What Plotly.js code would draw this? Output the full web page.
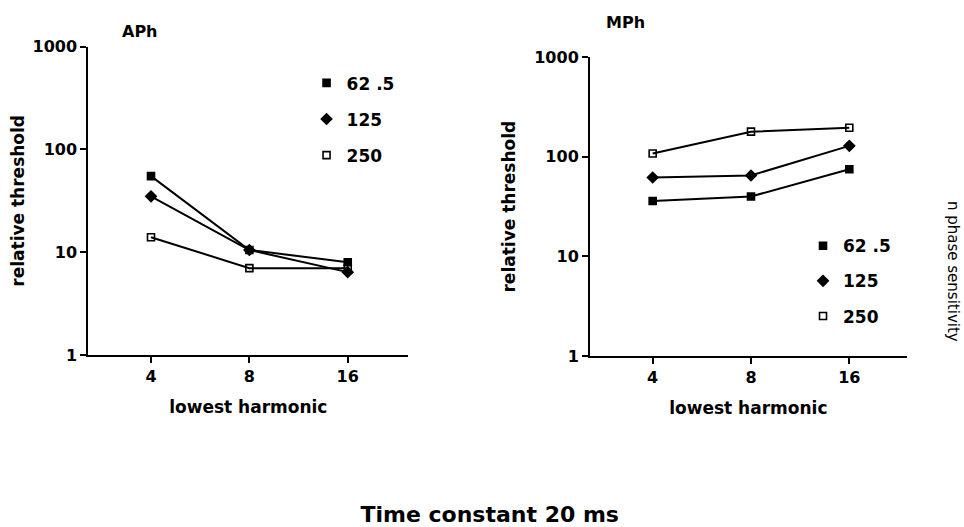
<!DOCTYPE html>
<html>
<head>
<meta charset="utf-8">
<script src="https://cdn.plot.ly/plotly-3.0.1.min.js"></script>
<style>html,body{margin:0;padding:0;background:#fff;}#chart{width:964px;height:527px;}</style>
</head>
<body>
<div id="chart"></div>
<script>
// ---- data ----
const harmonics = [4, 8, 16];
const seriesNames = ["62 .5", "125", "250"];
// APh panel
const aph_62_5 = [55, 10.5, 8.0];
const aph_125 = [35, 10.5, 6.4];
const aph_250 = [14, 7.0, 7.0];
// MPh panel
const mph_62_5 = [36, 40, 75];
const mph_125 = [62, 65, 129];
const mph_250 = [108, 179, 196];
const yTickVals = [1, 10, 100, 1000];
const yTickText = ["1", "10", "100", "1000"];
const xTickVals = [4, 8, 16];
const xTickText = ["4", "8", "16"];

const FONT = "DejaVu Sans, Liberation Sans, Arial, sans-serif";
const symbols = ["square", "diamond", "square-open"];
const sizes = [7, 8, 7];

function mk(y, i, xa, ya) {
  return {
    x: harmonics, y: y, xaxis: xa, yaxis: ya,
    mode: "lines+markers", showlegend: false,
    line: {color: "#000", width: 2},
    marker: {symbol: symbols[i], size: sizes[i], color: "#000", line: {color: "#000", width: 1.6}},
    hoverinfo: "x+y"
  };
}
function leg(i, lg, xa, ya) {
  return {
    x: [null], y: [null], xaxis: xa, yaxis: ya,
    mode: "markers", name: seriesNames[i], legend: lg, legendgroup: lg + i,
    marker: {symbol: symbols[i], size: sizes[i], color: "#000", line: {color: "#000", width: 1.6}}
  };
}

const traces = [
  mk(aph_62_5, 0, "x", "y"), mk(aph_125, 1, "x", "y"), mk(aph_250, 2, "x", "y"),
  mk(mph_62_5, 0, "x2", "y2"), mk(mph_125, 1, "x2", "y2"), mk(mph_250, 2, "x2", "y2"),
  leg(0, "legend", "x", "y"), leg(1, "legend", "x", "y"), leg(2, "legend", "x", "y"),
  leg(0, "legend2", "x2", "y2"), leg(1, "legend2", "x2", "y2"), leg(2, "legend2", "x2", "y2")
];

function xax(dom, rng, anchor) {
  return {
    type: "log", domain: dom, range: rng, anchor: anchor,
    tickvals: xTickVals, ticktext: xTickText,
    showgrid: false, zeroline: false, showline: true, linecolor: "#000", linewidth: 2,
    ticks: "outside", ticklen: 6, tickwidth: 2, tickcolor: "#000",
    tickfont: {family: FONT, size: 16, color: "#000", weight: "bold"},
    title: {text: "lowest harmonic", standoff: 16, font: {family: FONT, size: 17, color: "#000", weight: "bold"}},
    automargin: false, fixedrange: true
  };
}
function yax(dom, anchor, standoff) {
  return {
    type: "log", domain: dom, range: [0, 3], anchor: anchor,
    tickvals: yTickVals, ticktext: yTickText,
    showgrid: false, zeroline: false, showline: true, linecolor: "#000", linewidth: 2,
    ticks: "outside", ticklen: 6, tickwidth: 2, tickcolor: "#000",
    tickfont: {family: FONT, size: 16, color: "#000", weight: "bold"},
    title: {text: "relative threshold", standoff: standoff, font: {family: FONT, size: 17, color: "#000", weight: "bold"}},
    automargin: false, fixedrange: true
  };
}

const legStyle = (x, y, gap) => ({
  x: x, y: y, xanchor: "left", yanchor: "top", xref: "paper", yref: "paper",
  bgcolor: "rgba(0,0,0,0)", borderwidth: 0, tracegroupgap: gap, itemwidth: 30,
  font: {family: FONT, size: 17, color: "#000", weight: "bold"}
});

const layout = {
  width: 964, height: 527,
  margin: {l: 0, r: 0, t: 0, b: 0},
  paper_bgcolor: "#fff", plot_bgcolor: "#fff",
  showlegend: true,
  title: {
    text: "Time constant 20 ms", x: 0.508, xanchor: "center", y: 1 - 514/527, yanchor: "middle",
    font: {family: FONT, size: 22, color: "#000", weight: "bold"}
  },
  xaxis: xax([0.0916, 0.4236], [0.4102, 1.3896], "y"),
  yaxis: yax([0.3264, 0.9114], "x", 4),
  xaxis2: xax([0.612, 0.9406], [0.4101, 1.3799], "y2"),
  yaxis2: yax([0.3245, 0.8913], "x2", 14),
  legend: legStyle(0.318, 0.876, 11),
  legend2: legStyle(0.833, 0.567, 10),
  annotations: [
    {text: "APh", xref: "paper", yref: "paper", x: 0.1245, y: 1 - 32/527, xanchor: "left", yanchor: "middle",
     showarrow: false, font: {family: FONT, size: 16, color: "#000", weight: "bold"}},
    {text: "MPh", xref: "paper", yref: "paper", x: 0.627, y: 1 - 22/527, xanchor: "left", yanchor: "middle",
     showarrow: false, font: {family: FONT, size: 16, color: "#000", weight: "bold"}},
    {text: "n phase sensitivity", xref: "paper", yref: "paper", x: 953/964, y: 1 - 271/527,
     xanchor: "center", yanchor: "middle", textangle: 90,
     showarrow: false, font: {family: FONT, size: 15, color: "#000"}}
  ]
};

Plotly.newPlot("chart", traces, layout, {displayModeBar: false, staticPlot: true});
</script>
</body>
</html>
